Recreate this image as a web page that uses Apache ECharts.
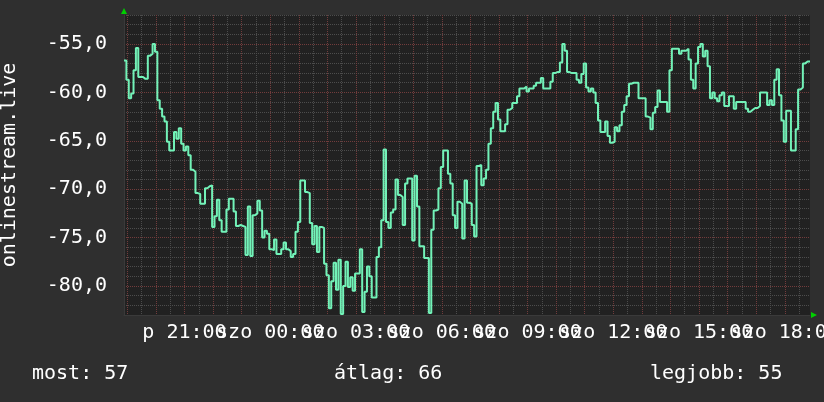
<!DOCTYPE html>
<html><head><meta charset="utf-8">
<script src="https://cdn.jsdelivr.net/npm/echarts@6/dist/echarts.min.js"></script>
<style>html,body{margin:0;padding:0;background:#2f2f2f}#c{width:824px;height:402px}</style>
</head><body><div id="c"></div>
<script>
// ---- data ----
const startHour = 18 + 53 / 60;   // window start: péntek 18:53
const stepHours = 5 / 60;         // 5-minute samples
const spanHours = 24;
const values = [
-56.7,-58.7,-60.6,-60.1,-57.7,-55.4,-58.4,-58.4,-58.6,-58.6,
-56.2,-56.0,-55.0,-55.8,-60.8,-61.7,-62.5,-63.0,-65.1,-66.0,
-66.0,-64.1,-64.8,-63.7,-65.3,-66.0,-65.6,-66.5,-68.0,-68.2,
-70.4,-70.5,-71.5,-71.5,-69.9,-69.7,-69.6,-73.9,-72.8,-71.1,
-73.2,-74.4,-74.4,-72.1,-71.0,-71.0,-72.3,-73.8,-73.7,-73.8,
-73.9,-76.8,-71.8,-76.9,-72.7,-72.5,-71.2,-72.2,-75.0,-74.3,
-74.6,-76.2,-76.3,-75.2,-76.7,-76.7,-76.2,-75.5,-76.2,-76.4,
-77.0,-76.7,-74.4,-73.4,-69.1,-69.1,-70.3,-70.4,-73.5,-75.7,
-73.8,-76.5,-73.9,-74.0,-77.7,-78.9,-82.3,-79.5,-77.6,-80.4,
-77.3,-82.9,-80.0,-77.5,-80.1,-79.1,-80.5,-78.7,-78.7,-76.2,
-82.7,-80.6,-78.0,-79.0,-81.2,-81.2,-77.0,-76.0,-73.2,-65.9,
-73.4,-74.0,-72.4,-72.1,-69.0,-70.6,-70.8,-73.7,-69.4,-68.9,
-68.9,-75.3,-68.6,-71.8,-75.9,-75.9,-77.1,-77.1,-82.8,-74.2,
-72.2,-72.1,-69.9,-67.7,-66.0,-66.0,-68.4,-69.4,-72.7,-74.0,
-71.3,-71.5,-75.1,-69.1,-71.4,-71.5,-73.7,-74.9,-67.6,-67.5,
-69.6,-68.9,-68.0,-65.3,-63.7,-62.0,-61.1,-62.8,-64.0,-64.0,
-63.3,-61.8,-61.6,-61.1,-61.1,-60.4,-59.6,-59.6,-59.4,-59.9,
-59.6,-59.6,-59.3,-59.0,-59.0,-58.5,-59.6,-59.6,-59.6,-58.9,
-58.0,-57.9,-57.9,-56.9,-55.0,-55.7,-57.9,-58.0,-58.0,-58.0,
-58.7,-59.0,-58.1,-57.0,-59.5,-59.9,-59.6,-60.0,-61.1,-62.9,
-64.1,-64.1,-63.0,-64.5,-65.2,-65.1,-63.6,-64.0,-63.4,-62.0,
-61.3,-60.4,-59.1,-59.0,-59.0,-59.0,-60.6,-60.6,-60.6,-62.5,
-62.6,-63.8,-62.1,-61.5,-59.8,-61.0,-61.0,-61.0,-62.0,-57.7,
-55.5,-55.5,-55.5,-56.0,-55.7,-55.7,-55.5,-56.6,-58.7,-59.6,
-57.0,-55.3,-55.0,-56.3,-55.7,-57.3,-60.6,-60.0,-60.6,-60.9,
-60.3,-60.0,-61.4,-61.4,-60.4,-60.4,-61.7,-61.0,-61.0,-61.0,
-61.0,-61.7,-62.0,-61.8,-61.6,-61.6,-61.4,-60.0,-60.0,-60.0,
-61.3,-60.8,-61.3,-58.7,-57.6,-60.3,-62.9,-65.1,-61.9,-61.9,
-66.0,-66.0,-63.8,-59.7,-59.5,-57.0,-56.8,-56.8
];
const labelHours = [21, 24, 27, 30, 33, 36, 39, 42];
const labelTexts = ['p 21:00', 'szo 00:00', 'szo 03:00', 'szo 06:00', 'szo 09:00', 'szo 12:00', 'szo 15:00', 'szo 18:00'];
const yLabelValues = [-80, -75, -70, -65, -60, -55];
const yMin = -83, yMax = -52;
const yAxisName = 'onlinestream.live';
const statTexts = ['most: 57', 'átlag: 66', 'legjobb: 55'];

// ---- build ----
const endHour = startHour + spanHours;
const points = values.map((v, i) => [startHour + i * stepHours, v]);
points.push([endHour, values[values.length - 1]]);
const minorX = [], majorX = [], minorY = [];
for (let h = Math.ceil(startHour * 2) / 2; h <= endHour; h += 0.5) minorX.push(h);
for (let h = Math.ceil(startHour); h <= endHour; h += 1) majorX.push(h);
for (let v = yMin; v <= yMax; v += 1) minorY.push(v);
// labels overlap each other, so they are split over two axes (alternating)
const labelsA = labelHours.filter((h, i) => i % 2 === 0);
const labelsB = labelHours.filter((h, i) => i % 2 === 1);
const fmtX = v => labelTexts[labelHours.indexOf(Math.round(v))];

const FONT = 'DejaVu Sans Mono';
const txt = { color: '#ffffff', fontSize: 20, fontFamily: FONT, fontWeight: 'normal' };
const minorLine = { show: true, lineStyle: { color: '#4c4c4c', width: 1, type: [1, 1] } };
const majorLine = { show: true, lineStyle: { color: '#723c3c', width: 1, type: [1, 1] } };
const xLabel = (vals) => ({
  show: true, customValues: vals, margin: 8, hideOverlap: false,
  showMinLabel: true, showMaxLabel: true,
  color: '#ffffff', fontSize: 20, fontFamily: FONT, formatter: fmtX
});

const chart = echarts.init(document.getElementById('c'), null, { renderer: 'canvas' });
chart.setOption({
  animation: false,
  backgroundColor: '#2f2f2f',
  title: [
    { text: statTexts[0], left: 32, top: 364, padding: 0, textStyle: txt },
    { text: statTexts[1], left: 334, top: 364, padding: 0, textStyle: txt },
    { text: statTexts[2], left: 650, top: 364, padding: 0, textStyle: txt }
  ],
  grid: {
    left: 124, right: 14, top: 15, bottom: 87,
    show: true, backgroundColor: '#212121', borderWidth: 0,
    containLabel: false, outerBoundsMode: 'none'
  },
  xAxis: [
    {
      type: 'value', min: startHour, max: endHour, position: 'bottom',
      axisLine: { show: true, onZero: false, lineStyle: { color: '#3a3a3a', width: 1 } },
      axisTick: { show: false, customValues: minorX },
      splitLine: minorLine,
      axisLabel: xLabel(labelsA)
    },
    {
      type: 'value', min: startHour, max: endHour, position: 'bottom',
      axisLine: { show: true, onZero: false, symbol: ['none', 'triangle'], symbolSize: [6, 6], symbolOffset: [0, 4],
                  lineStyle: { color: '#00d000', width: 0 } },
      axisTick: { show: false, customValues: majorX },
      splitLine: majorLine,
      axisLabel: xLabel(labelsB)
    }
  ],
  yAxis: [
    {
      type: 'value', min: yMin, max: yMax, position: 'left',
      name: yAxisName, nameLocation: 'middle', nameGap: 104, nameTextStyle: txt,
      axisLine: { show: true, onZero: false, lineStyle: { color: '#3a3a3a', width: 1 } },
      axisTick: { show: false, customValues: minorY },
      splitLine: minorLine,
      axisLabel: {
        show: true, customValues: yLabelValues, margin: 17,
        showMinLabel: true, showMaxLabel: true,
        color: '#ffffff', fontSize: 20, fontFamily: FONT,
        formatter: v => v.toFixed(1).replace('.', ',')
      }
    },
    {
      type: 'value', min: yMin, max: yMax, position: 'left',
      axisLine: { show: true, onZero: false, symbol: ['none', 'triangle'], symbolSize: [6, 6], symbolOffset: [0, 4],
                  lineStyle: { color: '#00d000', width: 0 } },
      axisTick: { show: false, customValues: yLabelValues },
      splitLine: majorLine,
      axisLabel: { show: false }
    }
  ],
  series: [{
    type: 'line', name: yAxisName, data: points, xAxisIndex: 0, yAxisIndex: 0,
    step: 'end', showSymbol: false, symbol: 'none', z: 10,
    lineStyle: { color: '#72f2b8', width: 2 }
  }]
});
</script></body></html>
